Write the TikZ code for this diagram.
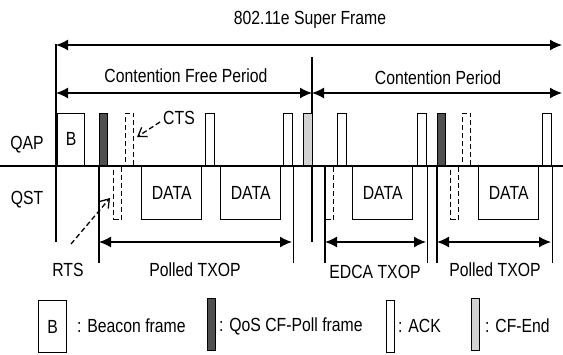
\documentclass[tikz,border=0pt]{standalone}
\usepackage{fontspec}
\setmainfont{Liberation Sans}[FakeStretch=0.83]
\usetikzlibrary{arrows.meta}

\definecolor{pollgray}{HTML}{505050}
\definecolor{endgray}{HTML}{D2D2D2}

\tikzset{
  frm/.style={draw, line width=1.4pt, inner sep=0pt, minimum height=52pt},
  up/.style={frm, anchor=south west},
  down/.style={frm, anchor=north west, minimum height=53pt},
  ack/.style={up, minimum width=9pt, fill=white},
  poll/.style={up, minimum width=8pt, fill=pollgray},
  cfend/.style={up, minimum width=9pt, fill=endgray},
  dashfrm/.style={minimum width=8pt, dash pattern=on 5pt off 3pt},
  datafrm/.style={down, minimum width=60pt},
  bnd/.style={line width=1.4pt},
  span/.style={line width=1.4pt, {Latex[length=12pt,width=11pt]}-{Latex[length=12pt,width=11pt]}},
  note/.style={line width=1.3pt, dash pattern=on 5pt off 3pt, -{Straight Barb[length=8pt,width=11pt]}},
  lbl/.style={inner sep=0pt}
}

\begin{document}
\begin{tikzpicture}[x=1pt, y=-1pt, font=\fontsize{19}{22}\selectfont]
  \useasboundingbox (0,0) rectangle (563,354);

  % ---- Periods ----
  \node[lbl] (sftxt) at (310,20) {802.11e Super Frame};
  \node[lbl] (cfptxt) at (186,76) {Contention Free Period};
  \node[lbl] (cptxt) at (438,78) {Contention Period};
  \coordinate (sfL) at (56,45);
  \coordinate (sfR) at (562,45);
  \coordinate (cfpL) at (56,93);
  \coordinate (cfpR) at (312,93);
  \coordinate (cpR) at (562,93);
  \draw[span] (sfL) -- (sfR);
  \draw[span] (cfpL) -- (cfpR);
  \draw[span] (cfpR) -- (cpR);
  % start of super frame and end of CFP
  \draw[bnd] (56,44) -- (56,242);
  \draw[bnd] (312,57) -- (312,242);

  % ---- Time line ----
  \draw[bnd] (0,166) -- (563,166);
  \node[lbl] (qap) at (27,145) {QAP};
  \node[lbl] (qst) at (27,200) {QST};

  % ---- QAP frames ----
  \node[up, minimum width=27pt] (bcn) at (57,166) {B};
  \node[poll] (poll1) at (99,166) {};
  \node[poll] (poll2) at (437,166) {};
  \node[up, dashfrm] (cts1) at (125,166) {};
  \node[up, dashfrm] (cts2) at (462,166) {};
  \foreach \x [count=\i] in {205,283,337,417,542} {
    \node[ack] (ack\i) at (\x,166) {};
  }
  \node[cfend] (cfend) at (303,166) {};

  % ---- QST frames ----
  \node[down, dashfrm] (rts1) at (113,166) {};
  \node[down, dashfrm] (rts2) at (325,166) {};
  \node[down, dashfrm] (rts3) at (450,166) {};
  \foreach \x [count=\i] in {141,220,352,478} {
    \node[datafrm] (data\i) at (\x,166) {DATA};
  }

  % ---- RTS / CTS notes ----
  \node[lbl] (ctstxt) at (179,118) {CTS};
  \node[lbl] (rtstxt) at (68,270) {RTS};
  \coordinate (ctsT) at (137,137);
  \coordinate (rtsT) at (110,198);
  \draw[note] (160,122) -- (ctsT);
  \draw[note] (71,244) -- (rtsT);

  % ---- TXOPs ----
  \draw[bnd] (poll1.south west) -- ++(0,97);
  \draw[bnd] (ack2.south east) -- ++(0,97);
  \draw[bnd] (rts2.north west) -- ++(0,97);
  \draw[bnd] (ack4.south east) -- ++(0,97);
  \draw[bnd] (poll2.south west) -- ++(0,97);
  \draw[bnd] (ack5.south east) -- ++(0,97);
  \coordinate (tx1L) at (99,242);
  \coordinate (tx1R) at (292,242);
  \coordinate (tx2L) at (325,242);
  \coordinate (tx2R) at (426,242);
  \coordinate (tx3L) at (437,242);
  \coordinate (tx3R) at (551,242);
  \draw[span] (tx1L) -- (tx1R);
  \draw[span] (tx2L) -- (tx2R);
  \draw[span] (tx3L) -- (tx3R);
  \node[lbl] (tx1) at (195,270) {Polled TXOP};
  \node[lbl] (tx2) at (375,272) {EDCA TXOP};
  \node[lbl] (tx3) at (495,270) {Polled TXOP};

  % ---- Legend ----
  \node[down, minimum height=52pt, minimum width=28pt] (legB) at (38,300) {B};
  \node[down, minimum height=52pt, minimum width=8pt, fill=pollgray] (legP) at (207,298) {};
  \node[down, minimum height=52pt, minimum width=8pt] (legA) at (386,300) {};
  \node[down, minimum height=52pt, minimum width=8pt, fill=endgray] (legE) at (471,298) {};
  \node[lbl, anchor=west] (legBtxt) at (77,326) {: Beacon frame};
  \node[lbl, anchor=west] (legPtxt) at (219,326) {: QoS CF-Poll frame};
  \node[lbl, anchor=west] (legAtxt) at (398,326) {: ACK};
  \node[lbl, anchor=west] (legEtxt) at (485,326) {: CF-End};
\end{tikzpicture}
\end{document}
